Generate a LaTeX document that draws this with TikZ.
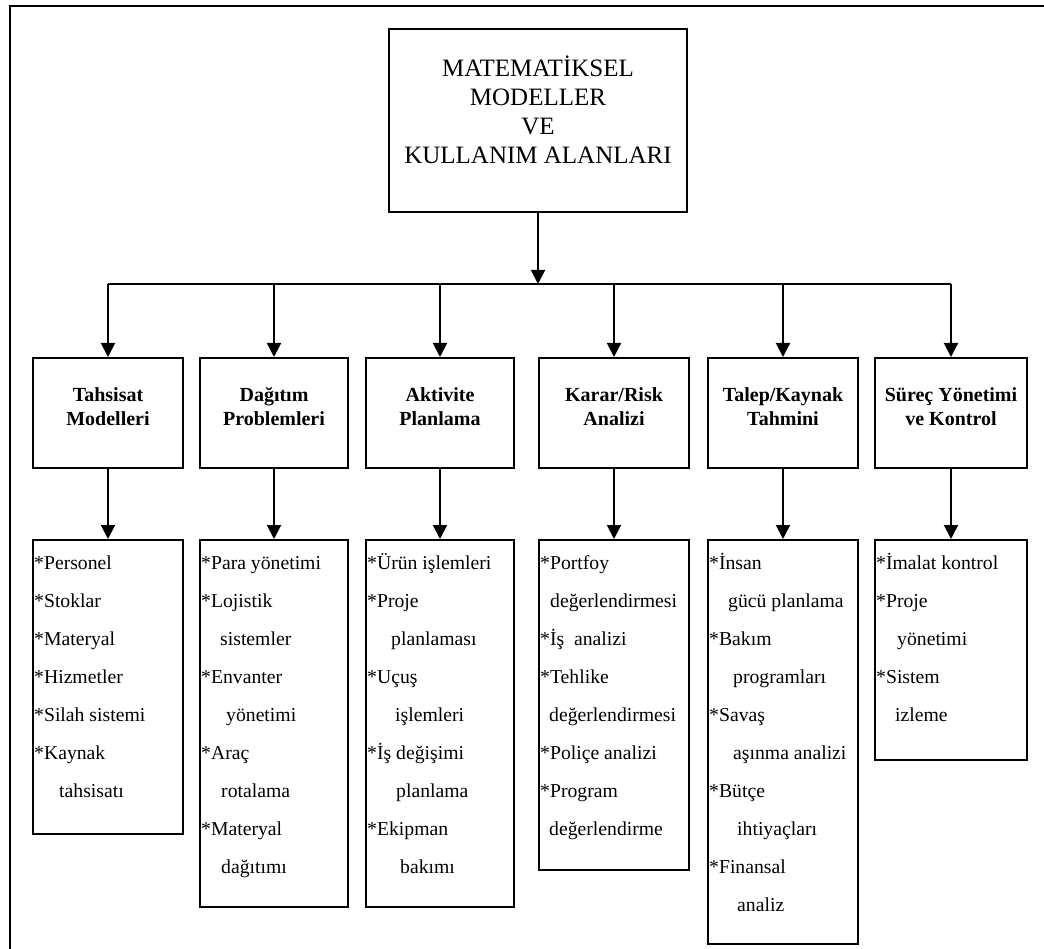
\documentclass[tikz,border=0pt]{standalone}
\usepackage{fontspec}
\setmainfont{Liberation Serif}
\usetikzlibrary{arrows.meta}
\begin{document}
\begin{tikzpicture}[x=1pt,y=-1pt,
  box/.style={draw, line width=2pt, inner sep=0pt, anchor=north west},
  link/.style={line width=2pt},
  arr/.style={link, -{Triangle[length=14pt,width=14pt]}},
  titletext/.style={font=\fontsize{25}{29}\selectfont, inner sep=0pt, anchor=base},
  headtext/.style={font=\fontsize{20}{23}\selectfont\bfseries, inner sep=0pt, anchor=base},
  itemtext/.style={font=\fontsize{19.7}{38}\selectfont, inner sep=0pt, anchor=base west}
]
\useasboundingbox (0,0) rectangle (1044,949);

% outer frame (runs past the page on the right and at the bottom)
\draw[line width=2pt] (10,949) -- (10,6) -- (1044,6);

% root box
\node[box, minimum width=298pt, minimum height=183pt] (root) at (388,28) {};
\node[titletext] (r1) at (538,77)  {MATEMATİKSEL};
\node[titletext] (r2) at (538,106) {MODELLER};
\node[titletext] (r3) at (538,135) {VE};
\node[titletext] (r4) at (538,164) {KULLANIM ALANLARI};

% first level boxes
\foreach \n/\l/\w in {1/32/150, 2/199/148, 3/365/148, 4/538/150, 5/707/150, 6/874/152}
  \node[box, minimum width=\w pt, minimum height=110pt] (b\n) at (\l,357) {};

\node[headtext] (h1a) at (b1.north |- 0,402) {Tahsisat};
\node[headtext] (h1b) at (b1.north |- 0,425) {Modelleri};
\node[headtext] (h2a) at (b2.north |- 0,402) {Dağıtım};
\node[headtext] (h2b) at (b2.north |- 0,425) {Problemleri};
\node[headtext] (h3a) at (b3.north |- 0,402) {Aktivite};
\node[headtext] (h3b) at (b3.north |- 0,425) {Planlama};
\node[headtext] (h4a) at (b4.north |- 0,402) {Karar/Risk};
\node[headtext] (h4b) at (b4.north |- 0,425) {Analizi};
\node[headtext] (h5a) at (b5.north |- 0,402) {Talep/Kaynak};
\node[headtext] (h5b) at (b5.north |- 0,425) {Tahmini};
\node[headtext] (h6a) at (b6.north |- 0,402) {Süreç Yönetimi};
\node[headtext] (h6b) at (b6.north |- 0,425) {ve Kontrol};

% second level boxes
\foreach \n/\l/\w/\h in {1/32/150/294, 2/199/148/367, 3/365/148/367, 4/538/150/330, 5/707/150/404, 6/874/152/220}
  \node[box, minimum width=\w pt, minimum height=\h pt] (c\n) at (\l,539) {};

% item lists: x position / text, one line every 38pt
\foreach [count=\i] \x/\t in {34/*Personel, 34/*Stoklar, 34/*Materyal, 34/*Hizmetler,
    34/*Silah sistemi, 34/*Kaynak, 59/tahsisatı}
  \node[itemtext] (t1-\i) at (\x,{569+38*(\i-1)}) {\t};
\foreach [count=\i] \x/\t in {201/*Para yönetimi, 201/*Lojistik, 220/sistemler, 201/*Envanter,
    226/yönetimi, 201/*Araç, 221/rotalama, 201/*Materyal, 221/dağıtımı}
  \node[itemtext] (t2-\i) at (\x,{569+38*(\i-1)}) {\t};
\foreach [count=\i] \x/\t in {367/*Ürün işlemleri, 367/*Proje, 391/planlaması, 367/*Uçuş,
    395/işlemleri, 367/*İş değişimi, 396/planlama, 367/*Ekipman, 400/bakımı}
  \node[itemtext] (t3-\i) at (\x,{569+38*(\i-1)}) {\t};
\foreach [count=\i] \x/\t in {540/*Portfoy, 550/değerlendirmesi, 540/*İş\ \ analizi, 540/*Tehlike,
    549/değerlendirmesi, 540/*Poliçe analizi, 540/*Program, 549/değerlendirme}
  \node[itemtext] (t4-\i) at (\x,{569+38*(\i-1)}) {\t};
\foreach [count=\i] \x/\t in {709/*İnsan, 728/gücü planlama, 709/*Bakım, 733/programları,
    709/*Savaş, 733/aşınma analizi, 709/*Bütçe, 737/ihtiyaçları, 709/*Finansal, 737/analiz}
  \node[itemtext] (t5-\i) at (\x,{569+38*(\i-1)}) {\t};
\foreach [count=\i] \x/\t in {876/*İmalat kontrol, 876/*Proje, 897/yönetimi, 876/*Sistem, 895/izleme}
  \node[itemtext] (t6-\i) at (\x,{569+38*(\i-1)}) {\t};

% connectors
\coordinate (bus) at (0,284);
\draw[arr] (root.south) -- (root.south |- bus);
\draw[link] (b1.north |- bus) -- (b6.north |- bus);
\foreach \n in {1,...,6} {
  \draw[arr] (b\n.north |- bus) -- (b\n.north);
  \draw[arr] (b\n.south) -- (c\n.north);
}
\end{tikzpicture}
\end{document}
